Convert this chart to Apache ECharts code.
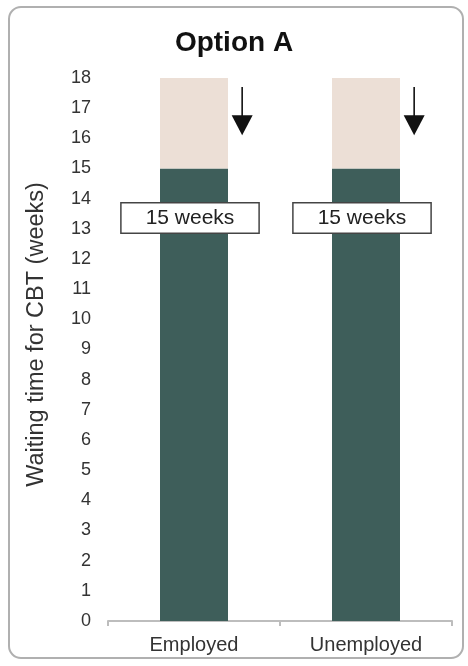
<!DOCTYPE html>
<html>
<head>
<meta charset="utf-8">
<script src="https://cdn.jsdelivr.net/npm/echarts@6/dist/echarts.min.js"></script>
<style>
html,body{margin:0;padding:0;background:#fff;}
#chart{width:468px;height:666px;}
</style>
</head>
<body>
<div id="chart"></div>
<script>
var categories = ['Employed', 'Unemployed'];
var waitingWeeks = [15, 15];
var extraWeeks = [3, 3];
var arrowTop = [17.7, 17.7];
var arrowTip = [16.1, 16.1];
var yTicks = {min: 0, max: 18, interval: 1};
var titleText = 'Option A';
var yAxisName = 'Waiting time for CBT (weeks)';

var FONT = '"Liberation Sans", Arial, sans-serif';
var chart = echarts.init(document.getElementById('chart'));

var arrowData = categories.map(function (c, i) { return [i, arrowTop[i], arrowTip[i]]; });

var option = {
  animation: false,
  title: {
    text: titleText,
    left: 'center',
    top: 24,
    textStyle: {fontFamily: FONT, fontSize: 28, fontWeight: 'bold', color: '#111'}
  },
  graphic: [{
    type: 'rect',
    shape: {x: 9, y: 7, width: 454, height: 651, r: 12},
    style: {fill: 'none', stroke: '#b0b0b0', lineWidth: 2},
    silent: true,
    z: -1
  }],
  grid: {left: 108, right: 16, top: 78, bottom: 45},
  xAxis: {
    type: 'category',
    data: categories,
    axisLine: {lineStyle: {color: '#bdbdbd', width: 2}},
    axisTick: {show: true, length: 5, lineStyle: {color: '#bdbdbd', width: 2}},
    axisLabel: {fontFamily: FONT, fontSize: 20, color: '#333', margin: 14}
  },
  yAxis: {
    type: 'value',
    min: yTicks.min,
    max: yTicks.max,
    interval: yTicks.interval,
    name: yAxisName,
    nameLocation: 'middle',
    nameGap: 59,
    nameTextStyle: {fontFamily: FONT, fontSize: 23.5, color: '#333', padding: [0, 0, 0, 30]},
    axisLine: {show: false},
    axisTick: {show: false},
    splitLine: {show: false},
    axisLabel: {fontFamily: FONT, fontSize: 18, color: '#333', margin: 17}
  },
  series: [{
    type: 'bar',
    stack: 'w',
    data: waitingWeeks,
    barWidth: 68,
    itemStyle: {color: '#3e5e5a'},
    label: {
      show: true,
      position: 'insideTop',
      distance: 35,
      offset: [-4, 0],
      formatter: '{c} weeks',
      fontFamily: FONT,
      fontSize: 21,
      color: '#222',
      backgroundColor: '#fff',
      borderColor: '#444',
      borderWidth: 1.5,
      padding: [4, 24]
    },
    z: 2
  }, {
    type: 'bar',
    stack: 'w',
    data: extraWeeks,
    barWidth: 68,
    itemStyle: {color: '#ecdfd6'}
  }, {
    type: 'custom',
    data: arrowData,
    encode: {x: 0, y: 1},
    z: 5,
    renderItem: function (params, api) {
      var cat = api.value(0);
      var pTop = api.coord([cat, api.value(1)]);
      var pTip = api.coord([cat, api.value(2)]);
      var dx = api.size([1, 0])[0] * 0.28;
      var x = pTop[0] + dx;
      var headH = 20, headW = 21;
      return {
        type: 'group',
        children: [{
          type: 'line',
          shape: {x1: x, y1: pTop[1], x2: x, y2: pTip[1] - headH + 2},
          style: {stroke: '#111', lineWidth: 1.6}
        }, {
          type: 'polygon',
          shape: {points: [[x - headW / 2, pTip[1] - headH], [x + headW / 2, pTip[1] - headH], [x, pTip[1]]]},
          style: {fill: '#111'}
        }]
      };
    }
  }]
};
chart.setOption(option);
</script>
</body>
</html>
